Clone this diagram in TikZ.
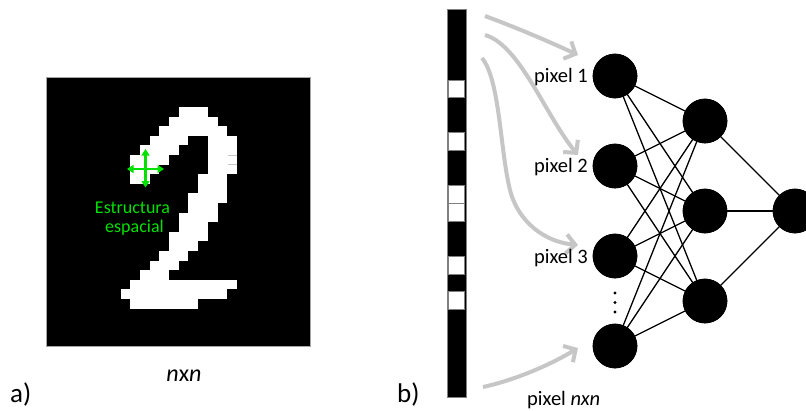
\documentclass[tikz,border=0pt]{standalone}
\usepackage{fontspec}
\setmainfont{Carlito}
\usetikzlibrary{arrows.meta}
\definecolor{grn}{RGB}{0,225,0}
\definecolor{arrowgray}{RGB}{198,198,198}
\begin{document}
\begin{tikzpicture}[x=1pt,y=-1pt,
  neuron/.style={circle,fill=black,minimum size=44.6pt,inner sep=0pt},
  conn/.style={line width=1.3pt},
  bigarrow/.style={draw=arrowgray,line width=4pt,-{Straight Barb[length=9pt,width=19pt]}},
  pixlab/.style={font=\fontsize{20.5}{24}\selectfont,inner sep=0pt},
  estlab/.style={text=grn,font=\fontsize{18}{22}\selectfont,inner sep=0pt,anchor=base},
  panellab/.style={font=\fontsize{27}{30}\selectfont,inner sep=0pt,anchor=base west},
  cross/.style={grn,line width=2.4pt,{Triangle[length=6.5pt,width=8pt]}-{Triangle[length=6.5pt,width=8pt]}},
  cellw/.style={fill=white,draw=gray,line width=0.8pt}
]
\useasboundingbox (0,0) rectangle (806,410);
\clip (0,0) rectangle (806,410);
\fill[white] (0,0) rectangle (806,410);

% ---------- a) digit image ----------
\fill[black] (46,77) rectangle (310,346);
\foreach \r/\a/\b in {0/1/4,1/0/5,2/-1/6,3/-2/2,3/4/7,4/-3/1,4/4/7,5/-4/0,5/4/7,
  6/-4/-1,6/4/7,7/-4/-2,7/3/6,8/3/6,9/2/6,10/2/5,11/1/5,12/1/4,13/0/4,14/0/3,
  15/-1/2,16/-2/1,17/-3/0,18/-4/7,19/-5/6,20/-4/3}
  \fill[white] ({169+9.7*\a},{107+9.6*\r}) rectangle ({169+9.7*\b},{107+9.6*(\r+1)});
\draw[gray!45,line width=0.8pt] (228,155.3) -- (237,155.3) (228,164.3) -- (237,164.3);
\draw[gray!70,line width=0.8pt] (46,77) rectangle (310,346);

\draw[cross] (127,169) -- (164,169);
\draw[cross] (145.5,149) -- (145.5,187.5);
\node[estlab] (est1) at (132.5,213) {Estructura};
\node[estlab] (est2) at (134.5,232) {espacial};

\node[anchor=base,inner sep=0pt,font=\fontsize{24}{28}\selectfont] (nxn) at (184,381.5) {\textit{n}x\textit{n}};
\node[panellab] (la) at (10,402.5) {a)};
\node[panellab] (lb) at (397,402.5) {b)};

% ---------- b) pixel strip ----------
\fill[black] (447,9.3) rectangle (466,397.6);
\foreach \i in {4,7,10,11,14,16}
  \filldraw[cellw] (448.2,{9.3+17.65*\i}) rectangle (464.8,{9.3+17.65*(\i+1)});
\draw[gray,line width=0.8pt] (447,9.3) rectangle (466,397.6);

% ---------- network ----------
\node[neuron] (i1) at (615,76) {};
\node[neuron] (i2) at (615,166) {};
\node[neuron] (i3) at (615,256) {};
\node[neuron] (i4) at (615,346) {};
\node[neuron] (h1) at (705,121) {};
\node[neuron] (h2) at (705,211) {};
\node[neuron] (h3) at (705,301) {};
\node[neuron] (o1) at (795,211) {};
\foreach \i in {1,2,3,4}
  \foreach \h in {1,2,3}
    \draw[conn] (i\i.center) -- (h\h.center);
\foreach \h in {1,2,3}
  \draw[conn] (h\h.center) -- (o1.center);
% redraw node discs on top of the connections
\foreach \p in {{615,76},{615,166},{615,256},{615,346},{705,121},{705,211},{705,301},{795,211}}
  \fill (\p) circle (22.3);
\foreach \y in {293,302.5,312}
  \fill (615,\y) circle (1.7);

% ---------- gray arrows ----------
\coordinate (s1) at (485,16);  \coordinate (t1) at (578,55);
\coordinate (s2) at (485,35);  \coordinate (t2) at (578,155);
\coordinate (s3) at (482,58);  \coordinate (m3) at (510,190); \coordinate (t3) at (578,245);
\coordinate (s4) at (483,387); \coordinate (t4) at (578,348);
\draw[bigarrow] (s1) .. controls (515,27) and (550,42) .. (t1);
\draw[bigarrow] (s2) .. controls (520,45) and (545,115) .. (t2);
\draw[bigarrow] (s3) .. controls (500,80) and (500,150) .. (m3) .. controls (518,222) and (545,242) .. (t3);
\draw[bigarrow] (s4) .. controls (515,380) and (550,365) .. (t4);

\node[pixlab,anchor=base east] (p1) at (588,82) {pixel 1};
\node[pixlab,anchor=base east] (p2) at (588,172) {pixel 2};
\node[pixlab,anchor=base east] (p3) at (588,263) {pixel 3};
\node[pixlab,anchor=base west] (p4) at (527,405) {pixel \textit{nxn}};
\end{tikzpicture}
\end{document}
